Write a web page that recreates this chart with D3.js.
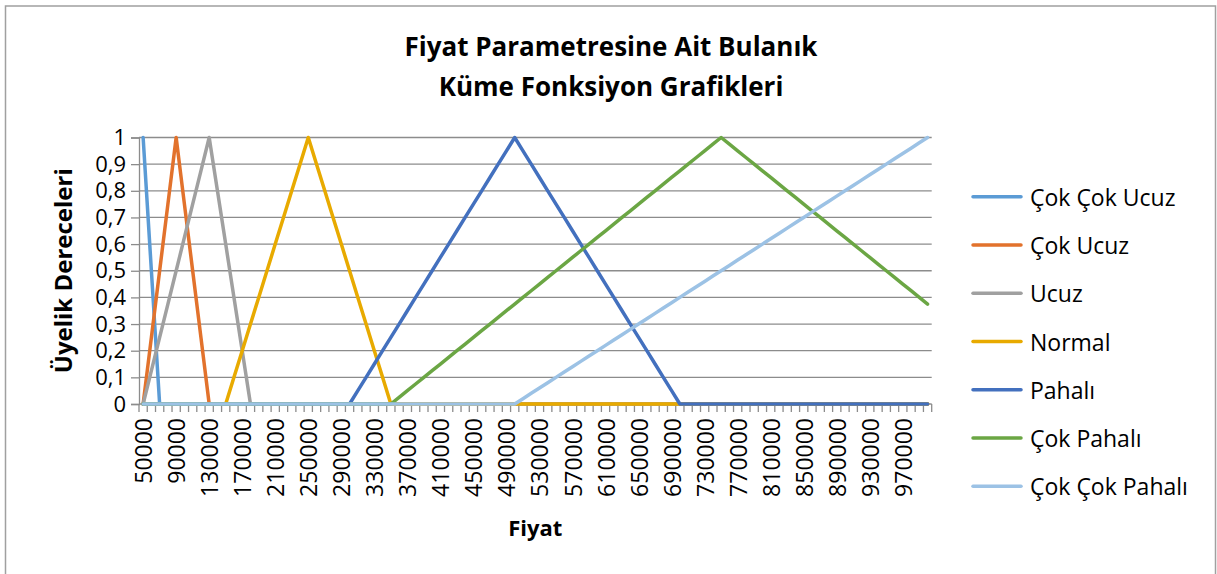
<!DOCTYPE html>
<html><head><meta charset="utf-8">
<script src="https://cdn.jsdelivr.net/npm/d3@7"></script>
<style>
html,body{margin:0;padding:0;background:#fff;}
text{font-family:"Open Sans",sans-serif;fill:#000;}
</style></head>
<body><svg id="c" width="1217" height="574"></svg>
<script>
const titleLines = ["Fiyat Parametresine Ait Bulanık", "Küme Fonksiyon Grafikleri"];
const xTitle = "Fiyat";
const yTitle = "Üyelik Dereceleri";
const categories = [
50000,60000,70000,80000,90000,100000,110000,120000,130000,140000,
150000,160000,170000,180000,190000,200000,210000,220000,230000,240000,
250000,260000,270000,280000,290000,300000,310000,320000,330000,340000,
350000,360000,370000,380000,390000,400000,410000,420000,430000,440000,
450000,460000,470000,480000,490000,500000,510000,520000,530000,540000,
550000,560000,570000,580000,590000,600000,610000,620000,630000,640000,
650000,660000,670000,680000,690000,700000,710000,720000,730000,740000,
750000,760000,770000,780000,790000,800000,810000,820000,830000,840000,
850000,860000,870000,880000,890000,900000,910000,920000,930000,940000,
950000,960000,970000,980000,990000,1000000];
const xTickLabels = [50000,90000,130000,170000,210000,250000,290000,330000,370000,410000,450000,490000,530000,570000,610000,650000,690000,730000,770000,810000,850000,890000,930000,970000];
const yTickValues = [0,0.1,0.2,0.3,0.4,0.5,0.6,0.7,0.8,0.9,1];
const seriesNames = ["Çok Çok Ucuz","Çok Ucuz","Ucuz","Normal","Pahalı","Çok Pahalı","Çok Çok Pahalı"];
const cokCokUcuz = [
1,0.5,0,0,0,0,0,0,0,0,
0,0,0,0,0,0,0,0,0,0,
0,0,0,0,0,0,0,0,0,0,
0,0,0,0,0,0,0,0,0,0,
0,0,0,0,0,0,0,0,0,0,
0,0,0,0,0,0,0,0,0,0,
0,0,0,0,0,0,0,0,0,0,
0,0,0,0,0,0,0,0,0,0,
0,0,0,0,0,0,0,0,0,0,
0,0,0,0,0,0];
const cokUcuz = [
0,0.25,0.5,0.75,1,0.75,0.5,0.25,0,0,
0,0,0,0,0,0,0,0,0,0,
0,0,0,0,0,0,0,0,0,0,
0,0,0,0,0,0,0,0,0,0,
0,0,0,0,0,0,0,0,0,0,
0,0,0,0,0,0,0,0,0,0,
0,0,0,0,0,0,0,0,0,0,
0,0,0,0,0,0,0,0,0,0,
0,0,0,0,0,0,0,0,0,0,
0,0,0,0,0,0];
const ucuz = [
0,0.125,0.25,0.375,0.5,0.625,0.75,0.875,1,0.8,
0.6,0.4,0.2,0,0,0,0,0,0,0,
0,0,0,0,0,0,0,0,0,0,
0,0,0,0,0,0,0,0,0,0,
0,0,0,0,0,0,0,0,0,0,
0,0,0,0,0,0,0,0,0,0,
0,0,0,0,0,0,0,0,0,0,
0,0,0,0,0,0,0,0,0,0,
0,0,0,0,0,0,0,0,0,0,
0,0,0,0,0,0];
const normal = [
0,0,0,0,0,0,0,0,0,0,
0,0.1,0.2,0.3,0.4,0.5,0.6,0.7,0.8,0.9,
1,0.9,0.8,0.7,0.6,0.5,0.4,0.3,0.2,0.1,
0,0,0,0,0,0,0,0,0,0,
0,0,0,0,0,0,0,0,0,0,
0,0,0,0,0,0,0,0,0,0,
0,0,0,0,0,0,0,0,0,0,
0,0,0,0,0,0,0,0,0,0,
0,0,0,0,0,0,0,0,0,0,
0,0,0,0,0,0];
const pahali = [
0,0,0,0,0,0,0,0,0,0,
0,0,0,0,0,0,0,0,0,0,
0,0,0,0,0,0,0.05,0.1,0.15,0.2,
0.25,0.3,0.35,0.4,0.45,0.5,0.55,0.6,0.65,0.7,
0.75,0.8,0.85,0.9,0.95,1,0.95,0.9,0.85,0.8,
0.75,0.7,0.65,0.6,0.55,0.5,0.45,0.4,0.35,0.3,
0.25,0.2,0.15,0.1,0.05,0,0,0,0,0,
0,0,0,0,0,0,0,0,0,0,
0,0,0,0,0,0,0,0,0,0,
0,0,0,0,0,0];
const cokPahali = [
0,0,0,0,0,0,0,0,0,0,
0,0,0,0,0,0,0,0,0,0,
0,0,0,0,0,0,0,0,0,0,
0,0.025,0.05,0.075,0.1,0.125,0.15,0.175,0.2,0.225,
0.25,0.275,0.3,0.325,0.35,0.375,0.4,0.425,0.45,0.475,
0.5,0.525,0.55,0.575,0.6,0.625,0.65,0.675,0.7,0.725,
0.75,0.775,0.8,0.825,0.85,0.875,0.9,0.925,0.95,0.975,
1,0.975,0.95,0.925,0.9,0.875,0.85,0.825,0.8,0.775,
0.75,0.725,0.7,0.675,0.65,0.625,0.6,0.575,0.55,0.525,
0.5,0.475,0.45,0.425,0.4,0.375];
const cokCokPahali = [
0,0,0,0,0,0,0,0,0,0,
0,0,0,0,0,0,0,0,0,0,
0,0,0,0,0,0,0,0,0,0,
0,0,0,0,0,0,0,0,0,0,
0,0,0,0,0,0,0.02,0.04,0.06,0.08,
0.1,0.12,0.14,0.16,0.18,0.2,0.22,0.24,0.26,0.28,
0.3,0.32,0.34,0.36,0.38,0.4,0.42,0.44,0.46,0.48,
0.5,0.52,0.54,0.56,0.58,0.6,0.62,0.64,0.66,0.68,
0.7,0.72,0.74,0.76,0.78,0.8,0.82,0.84,0.86,0.88,
0.9,0.92,0.94,0.96,0.98,1];
const seriesValues = [cokCokUcuz,cokUcuz,ucuz,normal,pahali,cokPahali,cokCokPahali];
const colors = ["#5B9BD5","#E2722C","#A0A0A0","#E8AA00","#4370BE","#6BA644","#9CC2E5"];

const svg = d3.select("#c");
const L = 139, R = 931.7, T = 137.5, B = 404;
const gridColor = "#8C8C8C";

// chart border
svg.append("rect").attr("x",5.5).attr("y",6).attr("width",1210).attr("height",580)
  .attr("fill","none").attr("stroke","#A0A0A0").attr("stroke-width",1.5);

const xBand = d3.scaleBand().domain(categories).range([L,R]).padding(0);
const xc = d => xBand(d) + xBand.bandwidth()/2;
const y = d3.scaleLinear().domain([0,1]).range([B,T]);

// gridlines
svg.append("g").selectAll("line").data(yTickValues.filter(v=>v>0)).join("line")
  .attr("x1",L).attr("x2",R).attr("y1",d=>y(d)).attr("y2",d=>y(d))
  .attr("stroke",gridColor).attr("stroke-width",1.3);

// y axis
const yAxis = d3.axisLeft(y).tickValues(yTickValues).tickSize(8).tickPadding(5)
  .tickFormat(d => String(d).replace(".", ","));
const gy = svg.append("g").attr("transform",`translate(${L},0)`).call(yAxis);
gy.select(".domain").attr("stroke",gridColor).attr("stroke-width",1.3);
gy.selectAll(".tick line").attr("stroke",gridColor).attr("stroke-width",1.3);
gy.selectAll(".tick text").attr("font-size",22).attr("font-family","Open Sans").attr("fill","#000");

// x axis
const gx = svg.append("g").attr("transform",`translate(0,${B})`);
gx.append("line").attr("x1",L).attr("x2",R).attr("stroke",gridColor).attr("stroke-width",1.3);
gx.selectAll("line.t").data(categories.concat(["end"])).join("line").attr("class","t")
  .attr("x1",d => d==="end" ? R : xBand(d)).attr("x2",d => d==="end" ? R : xBand(d))
  .attr("y1",0).attr("y2",8).attr("stroke",gridColor).attr("stroke-width",1.3);
gx.selectAll("text").data(xTickLabels).join("text")
  .attr("transform",d=>`translate(${xc(d)},14) rotate(-90)`)
  .attr("text-anchor","end").attr("dominant-baseline","central")
  .attr("font-size",23).text(d=>d);

// series
const line = d3.line().x((d,i)=>xc(categories[i])).y(d=>y(d));
seriesValues.forEach((vals,k)=>{
  svg.append("path").datum(vals).attr("d",line).attr("fill","none")
    .attr("stroke",colors[k]).attr("stroke-width",3.5)
    .attr("stroke-linejoin","round").attr("stroke-linecap","round");
});

// titles
svg.append("text").attr("x",611).attr("y",56).attr("text-anchor","middle")
  .attr("font-size",26).attr("font-weight","bold").text(titleLines[0]);
svg.append("text").attr("x",611).attr("y",96).attr("text-anchor","middle")
  .attr("font-size",26).attr("font-weight","bold").text(titleLines[1]);
svg.append("text").attr("x",(L+R)/2).attr("y",536).attr("text-anchor","middle")
  .attr("font-size",22).attr("font-weight","bold").text(xTitle);
svg.append("text").attr("transform",`translate(62,${(T+B)/2}) rotate(-90)`)
  .attr("text-anchor","middle").attr("dominant-baseline","central")
  .attr("font-size",24).attr("font-weight","bold").text(yTitle);

// legend
const lg = svg.append("g");
const rowY = d3.scalePoint().domain(seriesNames).range([196.7,486.3]);
seriesNames.forEach((n,k)=>{
  const yy = rowY(n);
  lg.append("line").attr("x1",973).attr("x2",1021).attr("y1",yy).attr("y2",yy)
    .attr("stroke",colors[k]).attr("stroke-width",3.5).attr("stroke-linecap","round");
  lg.append("text").attr("x",1030).attr("y",yy).attr("dominant-baseline","central")
    .attr("font-size",23).text(n);
});
</script></body></html>
